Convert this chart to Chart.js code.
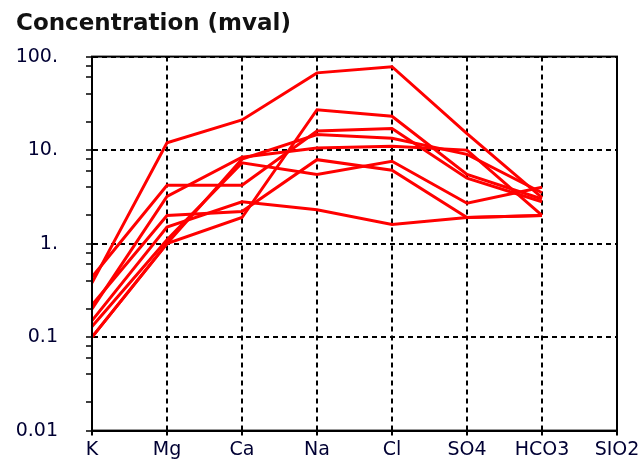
<!DOCTYPE html>
<html>
<head>
<meta charset="utf-8">
<script src="https://cdn.jsdelivr.net/npm/chart.js@4"></script>
<style>
  html, body { margin: 0; padding: 0; background: #fff; }
  #wrap { width: 643px; height: 470px; }
</style>
</head>
<body>
<div id="wrap"><canvas id="chart" width="643" height="470"></canvas></div>
<script>
// ions along the x axis
const ions = ['K', 'Mg', 'Ca', 'Na', 'Cl', 'SO4', 'HCO3', 'SIO2'];

// y axis (log) labels
const yTickValues = [0.01, 0.1, 1, 10, 100];
const yTickLabels = ['0.01', '0.1', '1.', '10.', '100.'];
const yMinorSteps = [2, 4, 6, 8];

// one list per water sample, concentration in mval (no SIO2 value)
const sample1 = [0.38, 12, 21, 67, 78, 15, 3.1, null];
const sample2 = [0.10, 1.0, 1.9, 27, 23, 5.5, 3.0, null];
const sample3 = [0.44, 4.2, 4.2, 16, 17, 5.0, 2.8, null];
const sample4 = [0.20, 3.2, 8.4, 10.5, 11, 10, 2.0, null];
const sample5 = [0.13, 1.1, 7.3, 5.5, 7.6, 2.7, 4.0, null];
const sample6 = [0.22, 2.0, 2.2, 7.9, 6.1, 1.9, 2.0, null];
const sample7 = [0.15, 1.5, 2.8, 2.3, 1.6, 1.9, 2.0, null];
const sample8 = [0.10, 1.0, 8.0, 14.7, 13.4, 9.0, 3.5, null];

const samples = [sample1, sample2, sample3, sample4, sample5, sample6, sample7, sample8];

const tickFont = { family: 'DejaVu Sans', size: 19 };
const tickColor = '#000033';

function isMajor(v) {
    return yTickValues.some(t => Math.abs(t - v) < t * 1e-6);
}

// frame round the plot area (top and right edges are solid)
const framePlugin = {
    id: 'frame',
    afterDraw(chart) {
        const a = chart.chartArea;
        const ctx = chart.ctx;
        ctx.save();
        ctx.strokeStyle = '#000';
        ctx.lineWidth = 2;
        ctx.setLineDash([]);
        ctx.strokeRect(a.left, a.top, a.right - a.left, a.bottom - a.top);
        ctx.restore();
    }
};

const config = {
    type: 'line',
    data: {
        labels: ions,
        datasets: samples.map((s, i) => ({
            label: 'Sample ' + (i + 1),
            data: s,
            borderColor: '#ff0000',
            backgroundColor: '#ff0000',
            borderWidth: 3,
            pointRadius: 0,
            tension: 0,
            fill: false
        }))
    },
    options: {
        responsive: false,
        animation: false,
        devicePixelRatio: 1,
        layout: { padding: { left: 16, right: 26, top: 0, bottom: 0 } },
        plugins: {
            legend: { display: false },
            tooltip: { enabled: false },
            title: {
                display: true,
                text: 'Concentration (mval)',
                align: 'start',
                color: '#111',
                font: { family: 'DejaVu Sans', size: 23, weight: 'bold' },
                padding: { top: 10, bottom: 19 }
            }
        },
        scales: {
            x: {
                type: 'category',
                offset: false,
                grid: {
                    offset: false,
                    color: '#000',
                    lineWidth: 2,
                    tickBorderDash: [],
                    tickLength: 5
                },
                border: { display: true, color: '#000', width: 2, dash: [5, 4] },
                ticks: {
                    color: tickColor,
                    font: tickFont,
                    padding: 3,
                    maxRotation: 0,
                    autoSkip: false
                }
            },
            y: {
                type: 'logarithmic',
                min: 0.01,
                max: 100,
                afterBuildTicks(scale) {
                    const t = [];
                    yTickValues.forEach(v => {
                        t.push({ value: v, major: true });
                        if (v < 100) yMinorSteps.forEach(m => t.push({ value: v * m, major: false }));
                    });
                    scale.ticks = t;
                },
                grid: {
                    color: ctx => (ctx.tick && isMajor(ctx.tick.value)) ? '#000' : 'rgba(0,0,0,0)',
                    tickColor: '#000',
                    lineWidth: 2,
                    tickWidth: 1.5,
                    tickBorderDash: [],
                    tickLength: 6
                },
                border: { display: true, color: '#000', width: 2, dash: [5, 4] },
                ticks: {
                    color: tickColor,
                    font: tickFont,
                    padding: 28,
                    autoSkip: false,
                    callback(v) {
                        const i = yTickValues.findIndex(t => Math.abs(t - v) < t * 1e-6);
                        return i >= 0 ? yTickLabels[i] : '';
                    }
                },
                afterFit(scale) { scale.width = 76; }
            }
        }
    },
    plugins: [framePlugin]
};

new Chart(document.getElementById('chart').getContext('2d'), config);
</script>
</body>
</html>
